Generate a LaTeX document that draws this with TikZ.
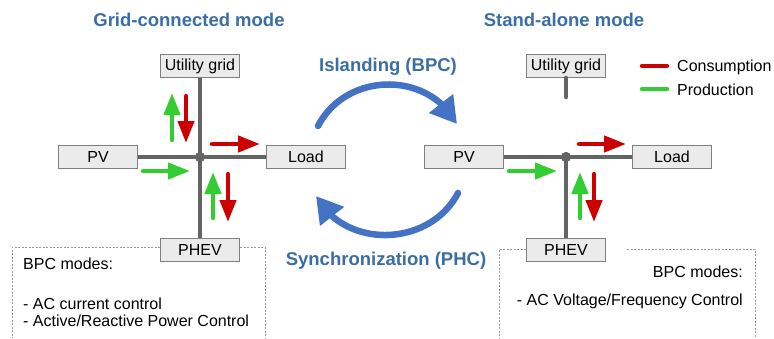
\documentclass[tikz,border=0pt]{standalone}
\usepackage{fontspec}
\setmainfont{Liberation Sans}
\usetikzlibrary{arrows.meta,bending}
\definecolor{titleblue}{RGB}{58,110,165}
\definecolor{arcblue}{RGB}{68,114,196}
\definecolor{flowred}{RGB}{204,0,0}
\definecolor{flowgreen}{RGB}{50,205,50}
\definecolor{busgray}{RGB}{100,100,100}
\definecolor{boxfill}{RGB}{235,235,235}
\definecolor{boxedge}{RGB}{128,128,128}
\definecolor{dashgray}{RGB}{150,150,150}
\begin{document}
\begin{tikzpicture}[x=1pt,y=-1pt,
  comp/.style={draw=boxedge, fill=boxfill, line width=0.9pt, minimum width=79pt, minimum height=23pt, inner sep=0pt, font=\fontsize{16}{18}\selectfont},
  bus/.style={draw=busgray, line width=4.5pt},
  junction/.style={circle, fill=busgray, minimum size=10pt, inner sep=0pt},
  flow/.style={line width=4.3pt, line cap=round, -{Triangle[width=16pt,length=22pt]}},
  cons/.style={flow, draw=flowred, fill=flowred},
  prod/.style={flow, draw=flowgreen, fill=flowgreen},
  title/.style={text=titleblue, font=\fontsize{18.5}{21}\selectfont\bfseries},
  plain/.style={font=\fontsize{16}{19}\selectfont, inner sep=0pt},
  dashbox/.style={draw=dashgray, line width=1pt, dash pattern=on 2pt off 1.5pt},
  cyc/.style={draw=arcblue, line width=6.5pt, line cap=round, -{Triangle[width=29pt,length=26pt]}},
  legline/.style={line width=4.5pt, line cap=round}
]
\useasboundingbox (0,0) rectangle (774,338);

% titles
\node[title] (t1) at (189,20) {Grid-connected mode};
\node[title] (t2) at (564,20) {Stand-alone mode};
\node[title] (t3) at (388,67) {Islanding (BPC)};
\node[title] (t4) at (386,261) {Synchronization (PHC)};

% dashed mode boxes
\draw[dashbox] (160,247) -- (12,247) -- (12,338);
\draw[dashbox] (240,247) -- (265,247) -- (265,338);
\draw[dashbox] (526,249) -- (499,249) -- (499,338);
\draw[dashbox] (627,249) -- (755,249) -- (755,338);

\node[plain, anchor=west] (m1) at (23,264) {BPC modes:};
\node[plain, anchor=west] (m2) at (23,304) {- AC current control};
\node[plain, anchor=west] (m3) at (23,321) {- Active/Reactive Power Control};
\node[plain, anchor=east] (m4) at (743,272) {BPC modes:};
\node[plain, anchor=east] (m5) at (743,301) {- AC Voltage/Frequency Control};

% left diagram
\node[comp] (ug1) at (200,66) {Utility grid};
\node[comp] (pv1) at (98,157) {PV};
\node[comp] (ld1) at (306,157) {Load};
\node[comp] (ph1) at (200,250) {PHEV};
\node[junction] (j1) at (200,157) {};
\draw[bus] (ug1.south) -- (j1.center);
\draw[bus] (j1.center) -- (ph1.north);
\draw[bus] (pv1.east) -- (ld1.west);
\node[junction] at (j1) {};

\draw[prod] (172,140) -- (172,93);
\draw[cons] (186,96) -- (186,143);
\draw[cons] (212,144) -- (260,144);
\draw[prod] (143,171) -- (190,171);
\draw[prod] (213,218) -- (213,172);
\draw[cons] (228,174) -- (228,222);

% right diagram
\node[comp] (ug2) at (566,66) {Utility grid};
\node[comp] (pv2) at (464,157) {PV};
\node[comp] (ld2) at (672,157) {Load};
\node[comp] (ph2) at (566,250) {PHEV};
\node[junction] (j2) at (566,157) {};
\coordinate (stub) at (566,97);
\draw[bus, line cap=round] (ug2.south) -- (stub);
\draw[bus] (j2.center) -- (ph2.north);
\draw[bus] (pv2.east) -- (ld2.west);
\node[junction] at (j2) {};

\draw[cons] (579,144) -- (626,144);
\draw[prod] (509,171) -- (557,171);
\draw[prod] (580,218) -- (580,172);
\draw[cons] (594,174) -- (594,222);

% cycle arrows
\coordinate (a1) at (318,126);
\coordinate (a2) at (457,124);
\coordinate (b1) at (458,193);
\coordinate (b2) at (316,196);
\draw[cyc] (a1) .. controls (346,72) and (428,70) .. (a2);
\draw[cyc] (b1) .. controls (430,247) and (345,250) .. (b2);

% legend
\coordinate (lr1) at (642,66);
\coordinate (lr2) at (667,66);
\coordinate (lg1) at (642,89);
\coordinate (lg2) at (667,89);
\draw[legline, flowred] (lr1) -- (lr2);
\draw[legline, flowgreen] (lg1) -- (lg2);
\node[plain, anchor=west] (lc) at (677,67) {Consumption};
\node[plain, anchor=west] (lp) at (677,90) {Production};
\end{tikzpicture}
\end{document}
